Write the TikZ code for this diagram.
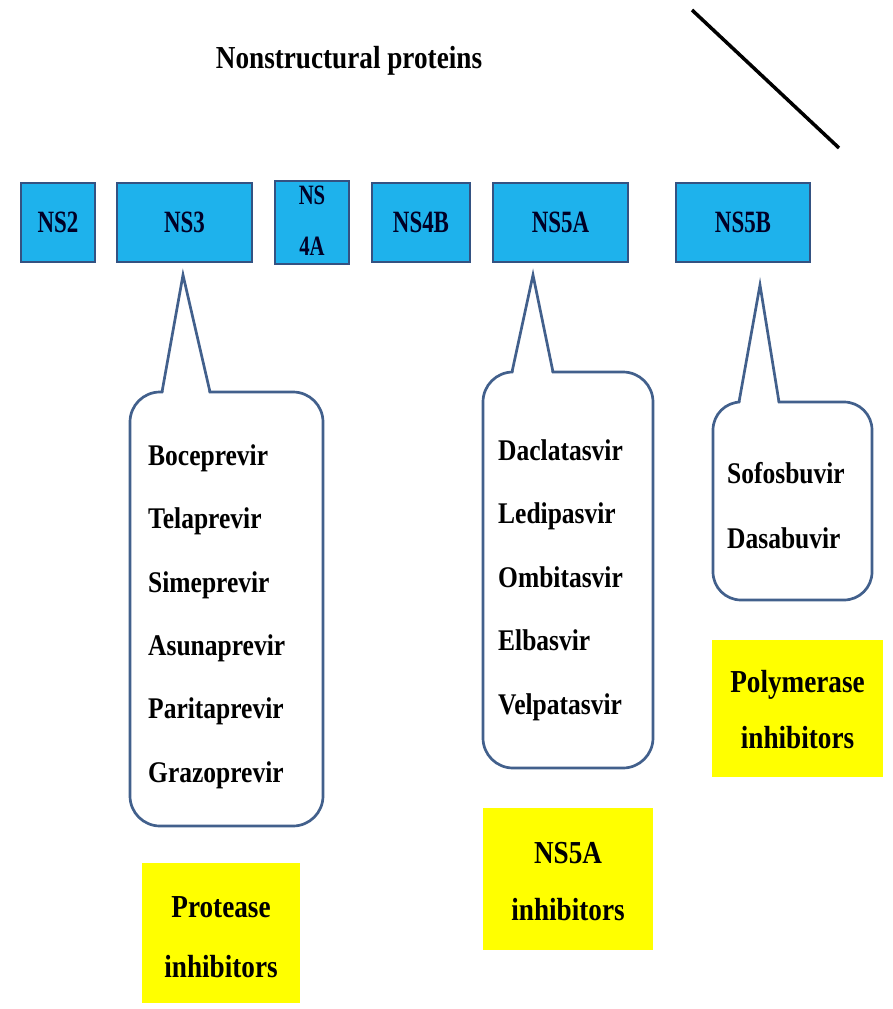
\documentclass[tikz,border=0pt]{standalone}
\usepackage{fontspec}
\setmainfont{Liberation Serif}[FakeStretch=0.85]
\newfontfamily\boxfont{Liberation Serif}[FakeStretch=0.74]
\definecolor{nsfill}{RGB}{30,178,236}
\definecolor{nsedge}{RGB}{52,82,130}
\definecolor{coedge}{RGB}{66,96,140}
\definecolor{yel}{RGB}{255,255,0}
\tikzset{
  nsbox/.style={draw=nsedge, fill=nsfill, line width=2.5pt, inner sep=0pt, font=\boxfont\bfseries\fontsize{31}{33}\selectfont, text=black!85!blue},
  ns4text/.style={anchor=base, inner sep=0pt, font=\boxfont\bfseries\fontsize{28}{30}\selectfont, text=black!85!blue},
  coline/.style={draw=coedge, line width=2.7pt, line join=miter},
  drug/.style={anchor=base west, inner sep=0pt, font=\bfseries\fontsize{30}{36}\selectfont},
  cls/.style={fill=yel, inner sep=0pt},
  clstext/.style={anchor=base, inner sep=0pt, font=\bfseries\fontsize{32}{36}\selectfont},
}
\begin{document}
\begin{tikzpicture}[x=1pt,y=-1pt]
\useasboundingbox (0,0) rectangle (893,1009);
% title
\node[anchor=base, inner sep=0pt, font=\bfseries\fontsize{32}{36}\selectfont] (title) at (349,68) {Nonstructural proteins};
% diagonal line
\coordinate (d1) at (692,10);
\coordinate (d2) at (839,148);
\draw[line width=3.5pt] (d1) -- (d2);
% NS boxes
\node[nsbox, minimum width=74pt, minimum height=79pt] (ns2) at (58,222.5) {NS2};
\node[nsbox, minimum width=135pt, minimum height=79pt] (ns3) at (184.5,222.5) {NS3};
\node[nsbox, minimum width=74pt, minimum height=83pt] (ns4a) at (312,222.5) {};
\node[ns4text] (ns4at) at (312,204) {NS};
\node[ns4text] (ns4ab) at (312,255) {4A};
\node[nsbox, minimum width=98pt, minimum height=79pt] (ns4b) at (421,222.5) {NS4B};
\node[nsbox, minimum width=135pt, minimum height=79pt] (ns5a) at (560.5,222.5) {NS5A};
\node[nsbox, minimum width=134pt, minimum height=79pt] (ns5b) at (743,222.5) {NS5B};
% callout 1 (protease)
\coordinate (t1) at (183,275);
\draw[coline, fill=white, rounded corners=30pt] (130,392) rectangle (323,826);
\fill[white] (163,394.5) -- (t1) -- (209,394.5) -- cycle;
\draw[coline] (162,392) -- (t1) -- (210,392);
% callout 2 (NS5A)
\coordinate (t2) at (533,275);
\draw[coline, fill=white, rounded corners=30pt] (483,372) rectangle (653,768);
\fill[white] (513,374.5) -- (t2) -- (552,374.5) -- cycle;
\draw[coline] (512,372) -- (t2) -- (553,372);
% callout 3 (NS5B)
\coordinate (t3) at (760,285);
\draw[coline, fill=white, rounded corners=28pt] (713,402) rectangle (872,600);
\fill[white] (740,404.5) -- (t3) -- (778,404.5) -- cycle;
\draw[coline] (739,402) -- (t3) -- (779,402);
% drug names
\node[drug] (bo) at (148,465) {Boceprevir};
\node[drug] (te) at (148,528) {Telaprevir};
\node[drug] (si) at (148,592) {Simeprevir};
\node[drug] (as) at (148,655) {Asunaprevir};
\node[drug] (pa) at (148,718) {Paritaprevir};
\node[drug] (gr) at (148,782) {Grazoprevir};
\node[drug] (da) at (498,460) {Daclatasvir};
\node[drug] (le) at (498,523) {Ledipasvir};
\node[drug] (om) at (498,587) {Ombitasvir};
\node[drug] (el) at (498,650) {Elbasvir};
\node[drug] (ve) at (498,714) {Velpatasvir};
\node[drug] (so) at (727,483) {Sofosbuvir};
\node[drug] (ds) at (727,548) {Dasabuvir};
% class labels
\node[cls, minimum width=158pt, minimum height=140pt] (pib) at (221,933) {};
\node[clstext] (pi1) at (221,917) {Protease};
\node[clstext] (pi2) at (221,977) {inhibitors};
\node[cls, minimum width=170pt, minimum height=142pt] (nib) at (568,879) {};
\node[clstext] (ni1) at (568,863) {NS5A};
\node[clstext] (ni2) at (568,920) {inhibitors};
\node[cls, minimum width=171pt, minimum height=137pt] (plb) at (797.5,708.5) {};
\node[clstext] (pl1) at (797.5,692) {Polymerase};
\node[clstext] (pl2) at (797.5,748) {inhibitors};
\end{tikzpicture}
\end{document}
